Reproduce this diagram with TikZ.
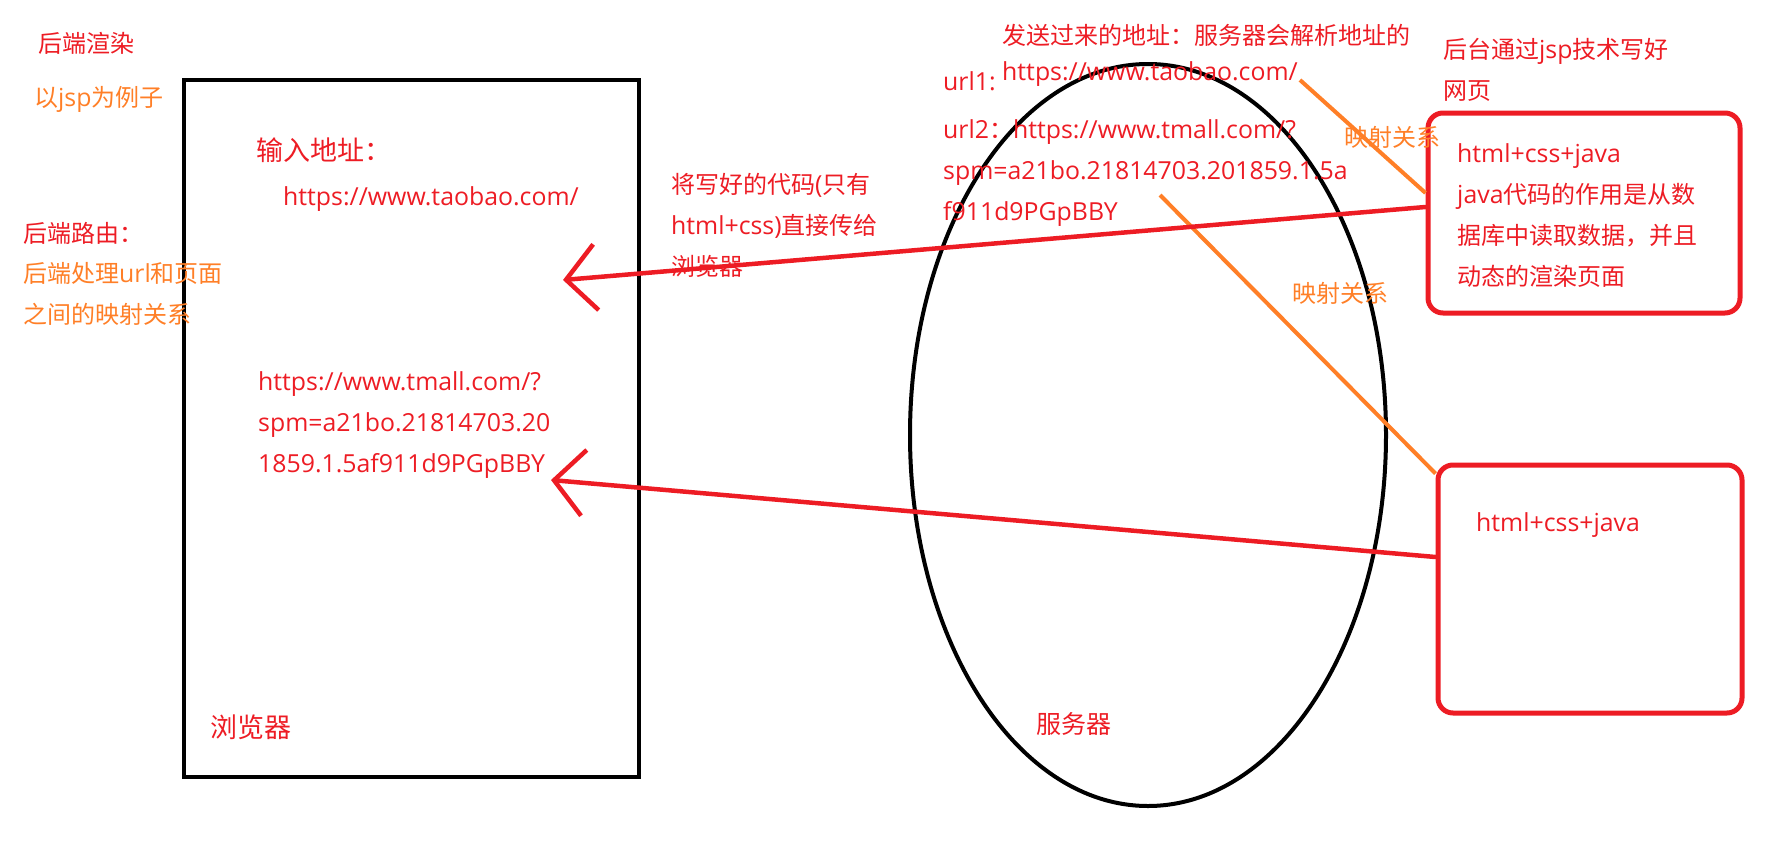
\documentclass[tikz,border=0pt]{standalone}
\usepackage{fontspec}
\setmainfont[Scale=1.035]{Open Sans}
\newfontfamily\cjk{Noto Sans CJK SC}
\newcommand{\zh}[1]{{\cjk #1}}
\usetikzlibrary{shapes.geometric,arrows.meta}
\definecolor{paintred}{RGB}{237,28,36}
\definecolor{paintorange}{RGB}{255,127,39}

\begin{document}
\begin{tikzpicture}[x=1pt,y=-1pt,
    redtxt/.style={text=paintred,inner sep=0pt,anchor=base west,align=left,font=\fontsize{24}{41}\selectfont},
    orgtxt/.style={redtxt,text=paintorange},
    bigtxt/.style={redtxt,font=\fontsize{27}{41}\selectfont},
    mapline/.style={paintorange,line width=4pt},
    sendline/.style={paintred,line width=4.5pt,line cap=round,line join=round,-{Straight Barb[length=30pt,width=66pt]}},
    codebox/.style={draw=paintred,line width=5pt,rounded corners=15pt,inner sep=0pt}]
    \useasboundingbox (0,0) rectangle (1789,854);
    % (base of a text block = base of its last line)

    % Draw the browser and the server
    \node[draw,line width=4.5pt,inner sep=0pt,minimum width=455pt,minimum height=697pt] (browser) at (411.5,428.5) {};
    \node[draw,ellipse,line width=4pt,inner sep=0pt,minimum width=476pt,minimum height=742pt] (server) at (1148,435) {};
    \node[codebox,minimum width=312pt,minimum height=200pt] (boxA) at (1584,213) {};
    \node[codebox,minimum width=304pt,minimum height=248pt] (boxB) at (1590,589) {};

    % Texts on the left
    \node[redtxt] (title) at (38,52) {\zh{后端渲染}};
    \node[orgtxt] (example) at (34,106) {\zh{以}jsp\zh{为例子}};
    \node[redtxt] (routelbl) at (23,242) {\zh{后端路由：}};
    \node[orgtxt] (routetxt) at (23,323) {\zh{后端处理}url\zh{和页面}\\\zh{之间的映射关系}};

    % Texts in the browser
    \node[bigtxt] (inputlbl) at (256,160) {\zh{输入地址：}};
    \node[redtxt] (inputurl) at (283,205) {https://www.taobao.com/};
    \node[redtxt] (tmallurl) at (258,472) {https://www.tmall.com/?\\spm=a21bo.21814703.20\\1859.1.5af911d9PGpBBY};
    \node[bigtxt] (browserlbl) at (210,737) {\zh{浏览器}};

    % Texts round the server
    \node[redtxt] (sendtxt) at (671,275) {\zh{将写好的代码}(\zh{只有}\\html+css)\zh{直接传给}\\\zh{浏览器}};
    \node[redtxt] (recvtxt) at (1002,44) {\zh{发送过来的地址：服务器会解析地址的}};
    \node[redtxt] (url1lbl) at (943,90) {url1:};
    \node[redtxt] (url1) at (1002,80) {https://www.taobao.com/};
    \node[redtxt] (url2) at (943,220) {url2\zh{：}https://www.tmall.com/?\\spm=a21bo.21814703.201859.1.5a\\f911d9PGpBBY};
    \node[redtxt,font=\fontsize{25}{41}\selectfont] (serverlbl) at (1036,733) {\zh{服务器}};
    \node[orgtxt] (mapA) at (1344,146) {\zh{映射关系}};
    \node[orgtxt] (mapB) at (1292,302) {\zh{映射关系}};

    % Texts on the right
    \node[redtxt] (jsptxt) at (1443,99) {\zh{后台通过}jsp\zh{技术写好}\\\zh{网页}};
    \node[redtxt] (boxAtxt) at (1457,285) {html+css+java\\java\zh{代码的作用是从数}\\\zh{据库中读取数据，并且}\\\zh{动态的渲染页面}};
    \node[redtxt] (boxBtxt) at (1476,531) {html+css+java};

    % Mapping lines
    \coordinate (url1end) at (1300,80);
    \coordinate (url2end) at (1160,195);
    \draw[mapline] (url1end) -- ([yshift=20pt]boxA.west);
    \draw[mapline] (url2end) -- ([yshift=-11pt]boxB.north west);

    % Pages sent back to the browser
    \coordinate (tipA) at (563,280);
    \coordinate (tipB) at (551,480);
    \draw[sendline] ([yshift=6pt]boxA.west) -- (tipA);
    \draw[sendline] ([yshift=32pt]boxB.west) -- (tipB);
\end{tikzpicture}
\end{document}
